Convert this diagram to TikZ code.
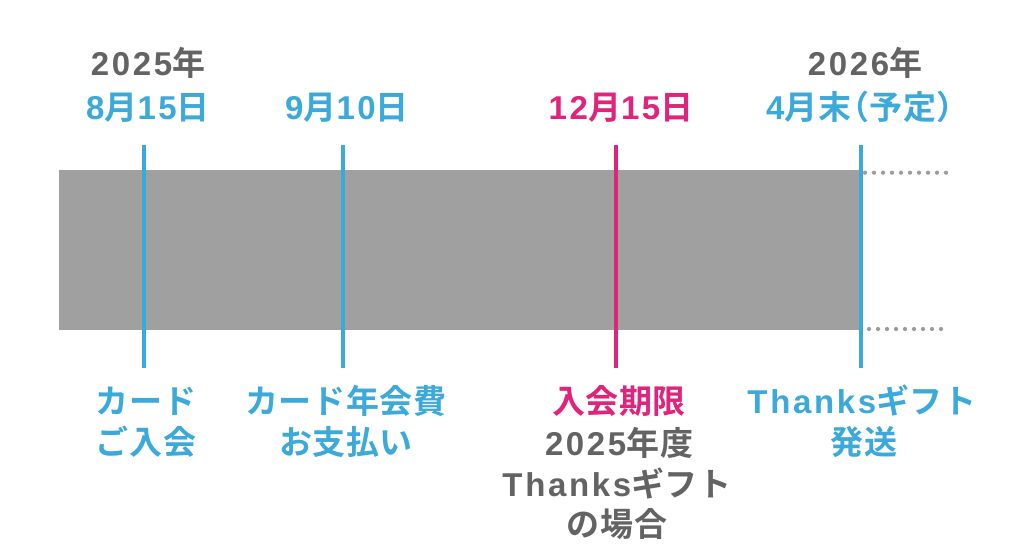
\documentclass[tikz,border=0pt]{standalone}
\usepackage{fontspec}
\setmainfont[LetterSpace=8]{Liberation Sans Bold}
\newfontfamily\jp[LetterSpace=2]{Noto Sans CJK JP Bold}
\newcommand{\J}[1]{{\jp #1}}
\definecolor{cblue}{HTML}{3BA9D9}
\definecolor{cmag}{HTML}{E0237B}
\definecolor{cgray}{HTML}{A0A0A0}
\definecolor{tgray}{HTML}{636363}
\definecolor{dgray}{HTML}{9C9C9C}
\begin{document}
\begin{tikzpicture}[x=1pt,y=-1pt,
  lbl/.style={font=\fontsize{33}{36}\selectfont, inner sep=0pt, anchor=base},
  tick/.style={line width=4pt},
  dot/.style={fill=dgray}]
\useasboundingbox (0,0) rectangle (1022,547);
\fill[cgray] (59,170) rectangle (862,330);
% dotted extensions
\foreach \i in {0,...,9}{\fill[dot] (865+9*\i,172.7) circle (2.1);}
\foreach \i in {0,...,8}{\fill[dot] (869+9*\i,329) circle (2.1);}
% ticks
\foreach \n/\x/\c in {a/144/cblue, b/343/cblue, c/616/cmag, d/861/cblue}{
  \coordinate (\n t) at (\x,145);
  \coordinate (\n b) at (\x,368);
  \draw[tick,\c] (\n t) -- (\n b);
}
% top labels
\node[lbl, tgray] (y1) at (148,75) {2025\J{年}};
\node[lbl, cblue] (t1) at (148,119) {8\J{月}15\J{日}};
\node[lbl, cblue] (t2) at (347,119) {9\J{月}10\J{日}};
\node[lbl, cmag] (t3) at (621,119) {12\J{月}15\J{日}};
\node[lbl, tgray] (y2) at (865,75) {2026\J{年}};
\node[lbl, cblue] (t4) at (868,119) {4\J{月末}\hspace{-15pt}\J{（予定）}\hspace{-15pt}};
% bottom labels
\node[lbl, cblue] (b1a) at (146,413) {\J{カード}};
\node[lbl, cblue] (b1b) at (146,454) {\J{ご入会}};
\node[lbl, cblue] (b2a) at (346,413) {\J{カード年会費}};
\node[lbl, cblue] (b2b) at (346,454) {\J{お支払い}};
\node[lbl, cmag] (b3a) at (619,413) {\J{入会期限}};
\node[lbl, tgray] (b3b) at (619,455) {2025\J{年度}};
\node[lbl, tgray] (b3c) at (617,496) {Thanks\J{ギフト}};
\node[lbl, tgray] (b3d) at (617,536) {\J{の場合}};
\node[lbl, cblue] (b4a) at (862,413) {Thanks\J{ギフト}};
\node[lbl, cblue] (b4b) at (864,454) {\J{発送}};
\end{tikzpicture}
\end{document}
